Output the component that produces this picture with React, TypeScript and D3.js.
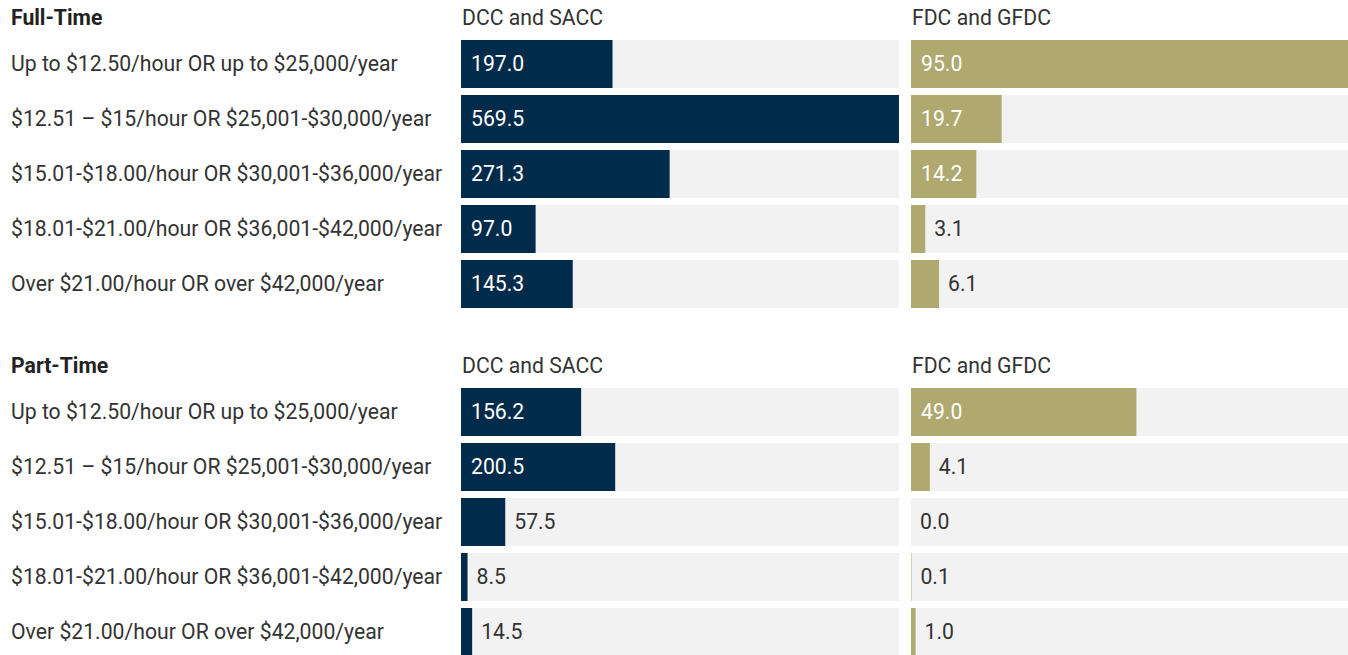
import React from "react";
import * as d3 from "d3";

const categories = [
  "Up to $12.50/hour OR up to $25,000/year",
  "$12.51 – $15/hour OR $25,001-$30,000/year",
  "$15.01-$18.00/hour OR $30,001-$36,000/year",
  "$18.01-$21.00/hour OR $36,001-$42,000/year",
  "Over $21.00/hour OR over $42,000/year",
];
const sections = ["Full-Time", "Part-Time"];
const columns = ["DCC and SACC", "FDC and GFDC"];
const fullTimeDCC = [197.0, 569.5, 271.3, 97.0, 145.3];
const fullTimeFDC = [95.0, 19.7, 14.2, 3.1, 6.1];
const partTimeDCC = [156.2, 200.5, 57.5, 8.5, 14.5];
const partTimeFDC = [49.0, 4.1, 0.0, 0.1, 1.0];

const W = 1348;
const H = 655;
const FONT = "Roboto, 'Noto Sans', sans-serif";
const COLORS = ["#012b4a", "#afa86f"];
const BG = "#f2f2f2";
const TEXT = "#333333";
const FS = 21.2;

export default function App() {
  const sectionData = [
    { title: sections[0], top: 0, values: [fullTimeDCC, fullTimeFDC] },
    { title: sections[1], top: 348, values: [partTimeDCC, partTimeFDC] },
  ];
  const colX = [
    d3.scaleLinear().domain([0, d3.max([...fullTimeDCC, ...partTimeDCC])!]).range([461, 899]),
    d3.scaleLinear().domain([0, d3.max([...fullTimeFDC, ...partTimeFDC])!]).range([911, 1348]),
  ];
  return (
    <div style={{ position: "fixed", left: 0, top: 0, width: W, height: H, background: "#fff" }}>
      <svg width={W} height={H} style={{ display: "block", fontFamily: FONT }}>
        {sectionData.map((s, si) => {
          const y = d3
            .scaleBand<string>()
            .domain(categories)
            .range([s.top + 36.5, s.top + 36.5 + 55 * categories.length])
            .paddingInner(7 / 55)
            .paddingOuter(3.5 / 55);
          return (
            <g key={si}>
              <text x={11} y={s.top + 18} dy="0.35em" fontSize={FS} fontWeight={700} fill="#222">
                {s.title}
              </text>
              {columns.map((c, ci) => (
                <text key={c} x={colX[ci].range()[0] + 1} y={s.top + 18} dy="0.35em" fontSize={FS} fill={TEXT}>
                  {c}
                </text>
              ))}
              {categories.map((cat, i) => {
                const yy = y(cat)!;
                const bh = y.bandwidth();
                return (
                  <g key={cat}>
                    <text x={11} y={yy + bh / 2} dy="0.35em" fontSize={FS} fill={TEXT}>
                      {cat}
                    </text>
                    {columns.map((c, ci) => {
                      const sc = colX[ci];
                      const v = s.values[ci][i];
                      const x0 = sc.range()[0];
                      const x1 = sc.range()[1];
                      const bw = sc(v) - x0;
                      const inside = bw > 62;
                      return (
                        <g key={c}>
                          <rect x={x0} y={yy} width={x1 - x0} height={bh} fill={BG} />
                          <rect x={x0} y={yy} width={bw} height={bh} fill={COLORS[ci]} />
                          <text
                            x={inside ? x0 + 10 : x0 + bw + 9}
                            y={yy + bh / 2}
                            dy="0.35em"
                            fontSize={FS}
                            fill={inside ? "#ffffff" : TEXT}
                          >
                            {v.toFixed(1)}
                          </text>
                        </g>
                      );
                    })}
                  </g>
                );
              })}
            </g>
          );
        })}
      </svg>
    </div>
  );
}
